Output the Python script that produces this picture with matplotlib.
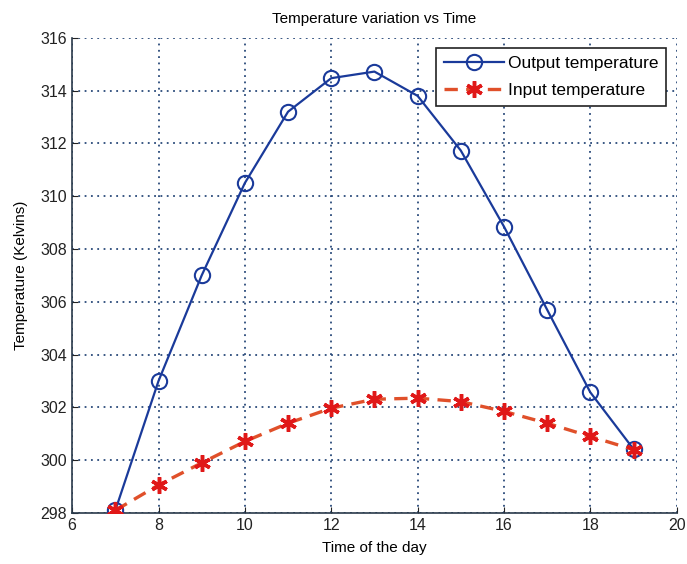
import matplotlib
matplotlib.use("Agg")
import matplotlib.pyplot as plt

hours = [7, 8, 9, 10, 11, 12, 13, 14, 15, 16, 17, 18, 19]
output_temp = [298.1, 303.0, 307.0, 310.5, 313.2, 314.47, 314.72, 313.8, 311.73, 308.85, 305.7, 302.57, 300.42]
input_temp = [298.1, 299.06, 299.9, 300.71, 301.4, 301.97, 302.31, 302.35, 302.22, 301.85, 301.4, 300.9, 300.4]
xticks = [6, 8, 10, 12, 14, 16, 18, 20]
yticks = [298, 300, 302, 304, 306, 308, 310, 312, 314, 316]

plt.rcParams['font.family'] = ['Liberation Sans', 'DejaVu Sans']

fig = plt.figure(figsize=(6.87, 5.64), dpi=100)
ax = fig.add_axes([0.105, 0.0904, 0.88, 0.8426])

ax.plot(hours, output_temp, color='#1a3a9a', lw=1.6, marker='o', ms=11,
        mfc='none', mec='#1a3a9a', mew=1.5, label='Output temperature', zorder=3)
ax.plot(hours, input_temp, color='#e0502a', lw=2.4, ls=(0, (4, 2.5)), marker=(6, 2, 0), ms=12,
        mfc='#e81010', mec='#e01818', mew=2.5, label='Input temperature', zorder=4)

ax.set_xlim(6, 20)
ax.set_ylim(298, 316)
ax.set_xticks(xticks)
ax.set_yticks(yticks)
ax.grid(True, ls=(0, (1, 2.5)), color='#2a4a7a', lw=1.3)
for s in ['top', 'right']:
    ax.spines[s].set_visible(False)
for s in ['left', 'bottom']:
    ax.spines[s].set_color('#2a3a4a')
    ax.spines[s].set_linewidth(1.2)
ax.tick_params(direction='in', labelsize=11.5, length=4, colors='#222222')

ax.set_title('Temperature variation vs Time', fontsize=11, pad=11)
ax.set_xlabel('Time of the day', fontsize=11, labelpad=6)
ax.set_ylabel('Temperature (Kelvins)', fontsize=11, labelpad=9)

leg = ax.legend(loc='upper right', fontsize=12.5, fancybox=False, framealpha=1,
                edgecolor='#222222', borderaxespad=0.6, handlelength=3.5,
                borderpad=0.45, labelspacing=0.7, handletextpad=0.2)
leg.get_frame().set_linewidth(1.2)

fig.savefig('out.png', dpi=100)
